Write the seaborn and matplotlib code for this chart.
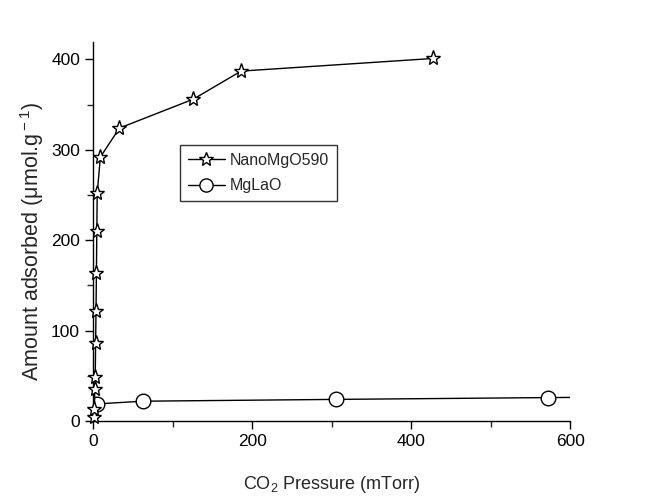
import matplotlib
matplotlib.use("Agg")
import matplotlib.pyplot as plt
import seaborn as sns
import pandas as pd
from matplotlib.ticker import MultipleLocator
from matplotlib.lines import Line2D

# Data
nano_x = [1, 1.5, 2, 2.5, 3, 3.5, 4, 4.5, 5, 9, 33, 126, 186, 428]
nano_y = [5, 13, 36, 49, 86, 122, 164, 210, 252, 292, 324, 356, 387, 401]
mgla_x = [5, 62, 305, 572, 650]
mgla_y = [19, 22, 24, 26, 26.5]
series_names = ["NanoMgO590", "MgLaO"]

sns.set_theme(style="ticks")
plt.rcParams['font.family'] = ['Liberation Sans', 'DejaVu Sans']
plt.rcParams['mathtext.fontset'] = 'custom'
plt.rcParams['mathtext.rm'] = 'Liberation Sans'

df = pd.concat([
    pd.DataFrame({"x": nano_x, "y": nano_y, "s": series_names[0]}),
    pd.DataFrame({"x": mgla_x, "y": mgla_y, "s": series_names[1]}),
])

fig = plt.figure(figsize=(6.66, 4.96), dpi=100)
ax = fig.add_axes([0.14, 0.151, 0.716, 0.764])

sns.lineplot(data=df, x="x", y="y", hue="s", style="s",
             palette={series_names[0]: "black", series_names[1]: "black"},
             markers={series_names[0]: "*", series_names[1]: "o"},
             dashes=False, sort=False, estimator=None, ax=ax, legend=False,
             linewidth=1.0)

for ln in ax.lines:
    ln.set_markerfacecolor("white")
    ln.set_markeredgecolor("black")
    ln.set_markeredgewidth(1.0)
ax.lines[0].set_markersize(11)
ax.lines[0].set_clip_on(False)
ax.lines[0].set_zorder(5)
ax.lines[1].set_markersize(10.5)
ax.lines[1].set_clip_on(True)

ax.set_xlim(0, 600)
ax.set_ylim(0, 419)
ax.xaxis.set_major_locator(MultipleLocator(200))
ax.xaxis.set_minor_locator(MultipleLocator(100))
ax.yaxis.set_major_locator(MultipleLocator(100))
ax.yaxis.set_minor_locator(MultipleLocator(50))
ax.tick_params(which="major", direction="out", length=6, width=1, labelsize=12.5, colors="black")
ax.tick_params(which="minor", direction="out", length=4, width=1)
for side in ["top", "right"]:
    ax.spines[side].set_visible(False)
for side in ["left", "bottom"]:
    ax.spines[side].set_linewidth(1)
    ax.spines[side].set_color("black")

ax.set_xlabel(r"CO$_{\rm 2}$ Pressure (mTorr)", fontsize=13, labelpad=18)
ax.set_ylabel(r"Amount adsorbed (μmol.g$^{\rm -1}$)", fontsize=15.5)
ax.yaxis.set_label_coords(-0.1, 0.475)

handles = [
    Line2D([], [], color="black", lw=1, marker="*", ms=10, mfc="white", mec="black"),
    Line2D([], [], color="black", lw=1, marker="o", ms=9.5, mfc="white", mec="black"),
]
leg = ax.legend(handles, series_names, loc="upper left",
                bbox_to_anchor=(180 / 666, 1 - 145 / 496), bbox_transform=fig.transFigure,
                frameon=True, fancybox=False, fontsize=11.5, handlelength=2.3,
                handletextpad=0.3, borderpad=0.5, labelspacing=0.65, borderaxespad=0)
leg.get_frame().set_edgecolor("black")
leg.get_frame().set_linewidth(1)

fig.savefig("out.png", dpi=100)
